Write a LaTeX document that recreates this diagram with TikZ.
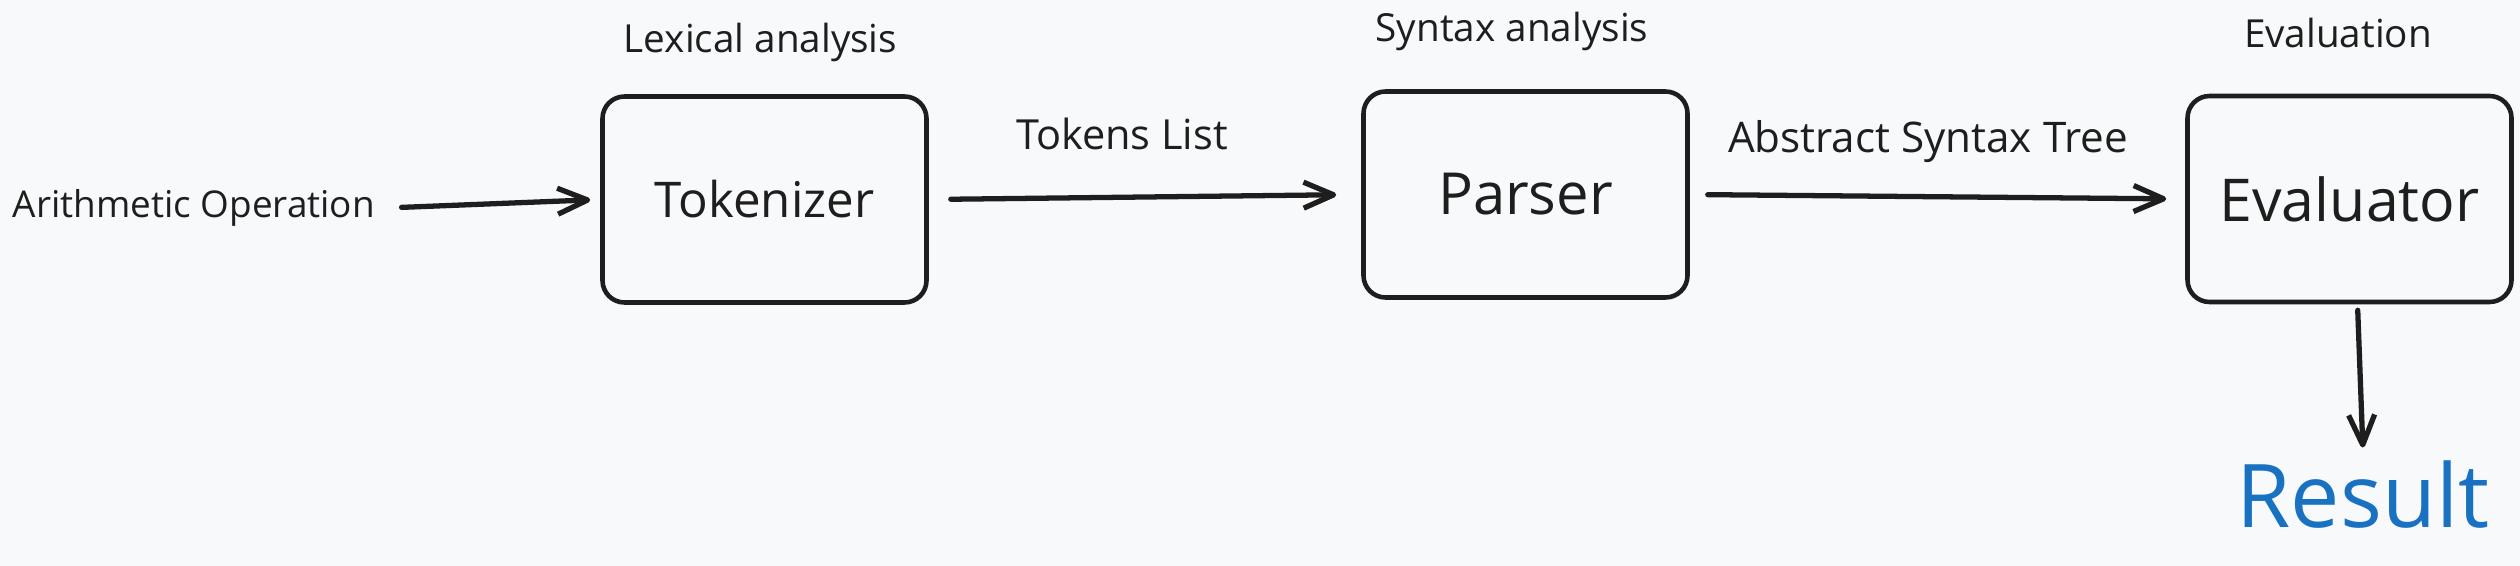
\documentclass[tikz,border=0pt]{standalone}
\usepackage{fontspec}
\setmainfont{Open Sans}
\usepackage{tikz}
\usetikzlibrary{arrows.meta, positioning}
\definecolor{inkcol}{HTML}{1E1E1E}
\definecolor{bgcol}{HTML}{F8F9FA}
\definecolor{resultblue}{HTML}{1971C2}

\begin{document}
\begin{tikzpicture}[
  stage/.style={draw=inkcol, line width=1.3pt, rounded corners=0.22cm,
    minimum width=3.24cm, minimum height=2.06cm, text=inkcol},
  note/.style={inner sep=0pt, text=inkcol, font=\fontsize{11}{13}\selectfont},
  flow/.style={draw=inkcol, line width=1.5pt, line cap=round,
    -{Straight Barb[length=0.3cm, width=0.26cm, line join=round]}}
]
  % canvas
  \fill[bgcol] (0,0) rectangle (25.2,-5.66);
  \useasboundingbox (0,0) rectangle (25.2,-5.66);

  % stages
  \node[stage, font=\fontsize{14}{17}\selectfont] (tok) at (7.645,-1.995) {Tokenizer};
  \node[stage, font=\fontsize{16.5}{19}\selectfont] (par) at (15.255,-1.945) {Parser};
  \node[stage, font=\fontsize{16.8}{20}\selectfont] (eval) at (23.495,-1.99) {Evaluator};

  % stage captions
  \node[note, anchor=base] (lex) at (7.605,-0.53) {Lexical analysis};
  \node[note, anchor=base] (syn) at (15.12,-0.42) {Syntax analysis};
  \node[note, anchor=base] (evl) at (23.38,-0.48) {Evaluation};

  % input and output
  \node[note, anchor=base west, font=\fontsize{10.5}{13}\selectfont] (op) at (0.12,-2.18) {Arithmetic Operation};
  \node[anchor=base, inner sep=2pt, text=resultblue,
    font=\fontsize{25}{30}\selectfont] (res) at (23.63,-5.27) {Result};

  % edge labels
  \node[note, anchor=base, font=\fontsize{11.8}{14}\selectfont] (tl) at (11.22,-1.50) {Tokens List};
  \node[note, anchor=base, font=\fontsize{12}{14}\selectfont] (ast) at (19.28,-1.53) {Abstract Syntax Tree};

  % flow
  \draw[flow, shorten <=0.26cm, shorten >=0.1cm] (op.east) -- (tok.west);
  \draw[flow, shorten <=0.22cm, shorten >=0.25cm] (tok.east) -- (par.west);
  \draw[flow, shorten <=0.18cm, shorten >=0.19cm] (par.east) -- (eval.west);
  \draw[flow, shorten <=0.06cm, shorten >=0.05cm] ([xshift=0.08cm]eval.south) -- (res.north);
\end{tikzpicture}
\end{document}
